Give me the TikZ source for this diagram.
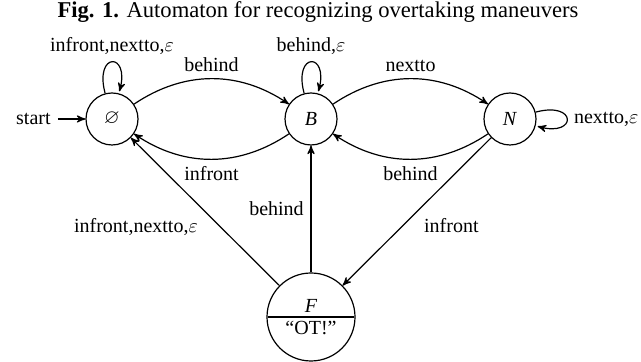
\documentclass[tikz,border=0pt]{standalone}
\usepackage{fontspec}
\usepackage{amssymb}
\setmainfont{Liberation Serif}
\usetikzlibrary{automata,positioning,shapes.multipart,arrows}

\begin{document}
\begin{tikzpicture}[
    ->, >=stealth', auto, semithick,
    node distance=99.5pt, on grid,
    every state/.style={draw, minimum size=26pt, inner sep=1pt},
    outstate/.style={state with output, minimum size=44pt, inner sep=2pt},
    initial text=start,
    captionbox/.style={font=\fontsize{11.3}{13}\selectfont}
]
\useasboundingbox (0,0) rectangle (320.5pt,181pt);

% Caption
\node[captionbox] (caption) at (159pt,175pt) {\textbf{Fig. 1.} Automaton for recognizing overtaking maneuvers};

% States
\node[state, initial] (empty) at (56pt,121.5pt) {$\varnothing$};
\node[state] (B) [right=of empty] {\textit{B}};
\node[state] (N) [right=of B] {\textit{N}};
\node[outstate] (F) [below=99pt of B] {\textit{F} \nodepart{lower} “OT!”};

% Transitions
\path (empty) edge[bend left=34] node {behind} (B)
              edge[loop above] node {infront,nextto,$\varepsilon$} ()
      (B) edge[bend left=34] node {nextto} (N)
          edge[bend left=34] node {infront} (empty)
          edge[loop above] node {behind,$\varepsilon$} ()
      (N) edge[bend left=34] node {behind} (B)
          edge[loop right] node {nextto,$\varepsilon$} ()
          edge node {infront} (F)
      (F) edge node {infront,nextto,$\varepsilon$} (empty)
          edge node {behind} (B);

\end{tikzpicture}
\end{document}
